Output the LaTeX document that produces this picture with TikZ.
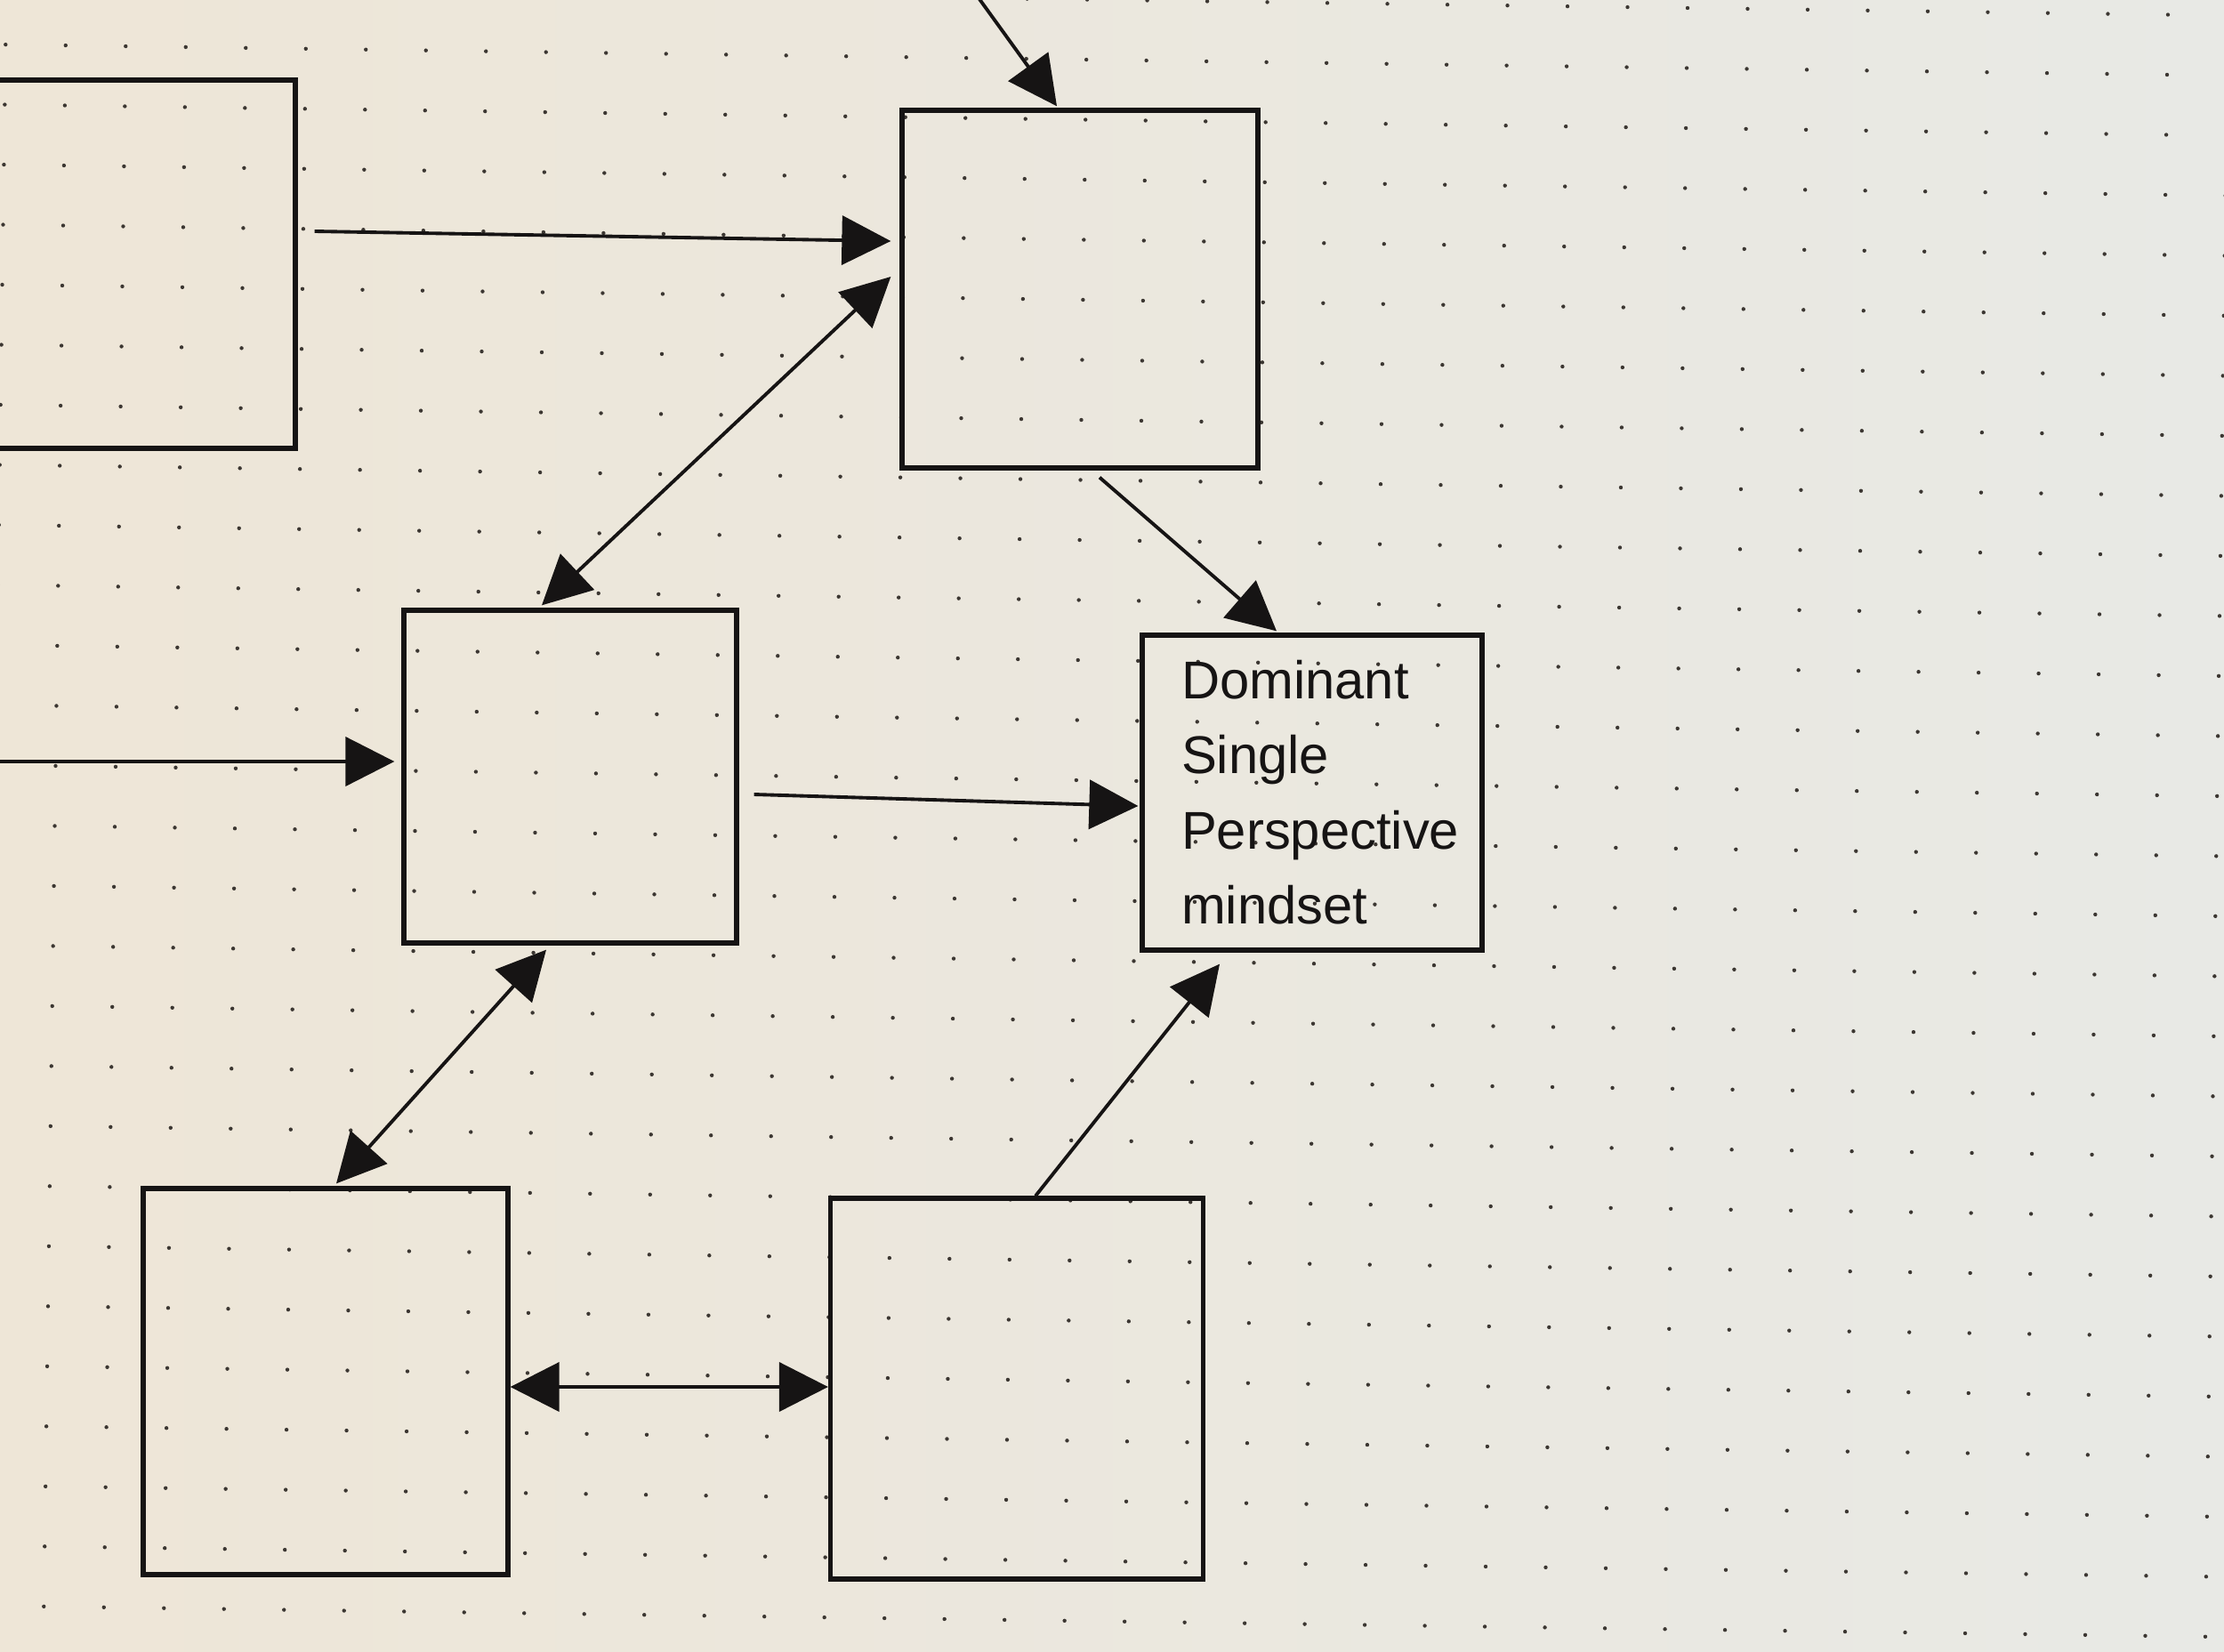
\documentclass[tikz,border=0pt]{standalone}
\usepackage{fontspec}
\setmainfont{Liberation Sans}
\usetikzlibrary{arrows.meta,positioning}
\definecolor{paperleft}{RGB}{238,230,215}
\definecolor{paperright}{RGB}{232,233,229}
\definecolor{ink}{RGB}{22,20,20}
\definecolor{dotc}{RGB}{60,55,50}

\begin{document}
\begin{tikzpicture}[
    x=1cm, y=1cm,
    box/.style={draw=ink, line width=1.5pt, inner sep=0pt},
    flow/.style={-{Triangle[length=5.5mm, width=5.5mm]}, line width=1.1pt, draw=ink},
    twoway/.style={{Triangle[length=5.5mm, width=5.5mm]}-{Triangle[length=5.5mm, width=5.5mm]}, line width=1.1pt, draw=ink}
]
\useasboundingbox (0,0) rectangle (25,-18.56);
\clip (0,0) rectangle (25,-18.56);
\shade[left color=paperleft, right color=paperright] (0,0) rectangle (25,-18.56);
\foreach \i in {-2,...,38}
  \foreach \j in {-2,...,28}
    \fill[dotc, rotate around={-0.8:(0,0)}] (0.07+0.675*\i, -0.5-0.675*\j) circle (0.022);

\node[box, minimum width=4.32cm, minimum height=4.14cm] (topleft) at (1.16,-2.97) {};
\node[box, minimum width=4.00cm, minimum height=4.02cm] (topmid) at (12.14,-3.25) {};
\node[box, minimum width=3.74cm, minimum height=3.74cm] (mid) at (6.41,-8.73) {};
\node[box, minimum width=3.82cm, minimum height=3.54cm] (dom) at (14.75,-8.91) {};
\node[box, minimum width=4.10cm, minimum height=4.34cm] (botleft) at (3.66,-15.53) {};
\node[box, minimum width=4.19cm, minimum height=4.28cm] (botmid) at (11.43,-15.61) {};

\node[anchor=north west, align=left, text=ink, inner sep=0pt, font=\fontsize{17}{24}\selectfont]
  (domtext) at ([xshift=0.46cm, yshift=-0.3cm]dom.north west) {Dominant\\Single\\Perspective\\mindset};

\coordinate (topin) at (10.80,0.3);
\coordinate (leftin) at (-0.2,-8.56);

\draw[flow] (topin) -- ([xshift=-0.26cm, yshift=0.02cm]topmid.north);
\draw[flow] ([xshift=0.19cm, yshift=0.37cm]topleft.east) -- ([xshift=-0.1cm, yshift=0.54cm]topmid.west);
\draw[twoway] ([xshift=-0.1cm, yshift=0.14cm]topmid.west) -- ([xshift=-0.32cm, yshift=0.03cm]mid.north);
\draw[flow] ([xshift=0.22cm, yshift=-0.08cm]topmid.south) -- ([xshift=-0.4cm, yshift=0.02cm]dom.north);
\draw[flow] (leftin) -- ([xshift=-0.08cm, yshift=0.17cm]mid.west);
\draw[flow] ([xshift=0.17cm, yshift=-0.2cm]mid.east) -- ([xshift=-0.02cm, yshift=-0.15cm]dom.west);
\draw[twoway] ([xshift=-0.27cm, yshift=-0.05cm]mid.south) -- ([xshift=0.12cm, yshift=0.03cm]botleft.north);
\draw[flow] ([xshift=0.21cm]botmid.north) -- ([xshift=-1.04cm, yshift=-0.13cm]dom.south);
\draw[twoway] ([yshift=-0.06cm]botleft.east) -- ([yshift=-0.06cm]botleft.east -| botmid.west);
\end{tikzpicture}
\end{document}
